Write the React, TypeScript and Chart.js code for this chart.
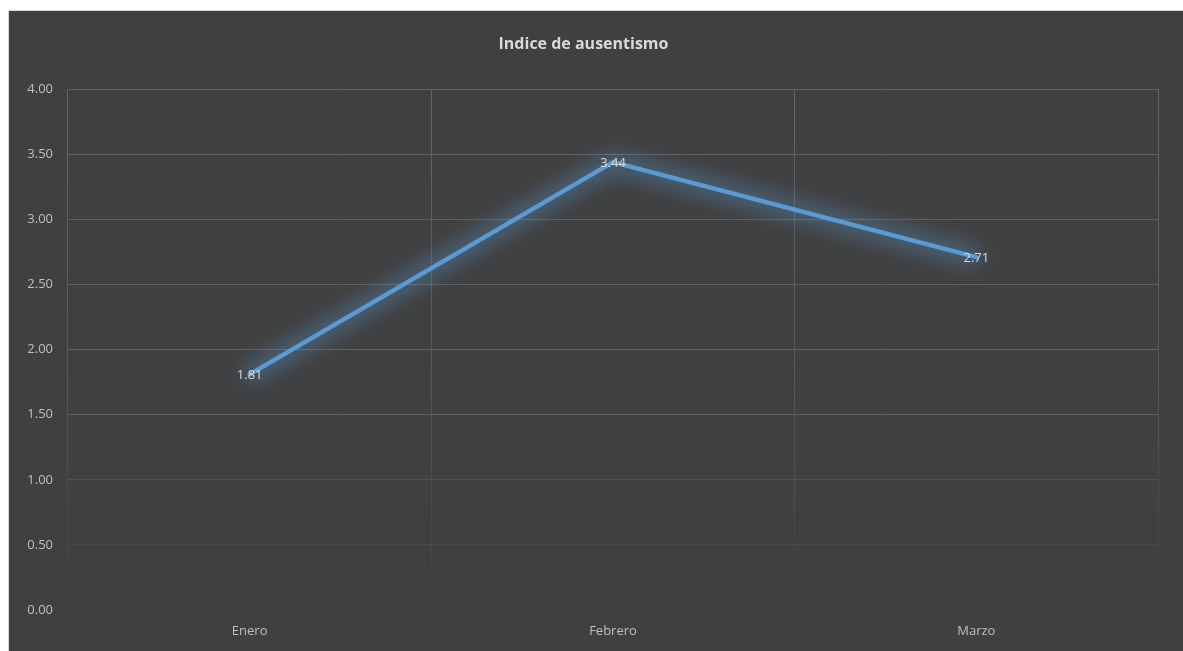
import React, { useEffect, useRef } from "react";
import { Chart, registerables } from "chart.js";

Chart.register(...registerables);

const categories = ["Enero", "Febrero", "Marzo"];
const values = [1.81, 3.44, 2.71];
const title = "Indice de ausentismo";
const yMin = 0;
const yMax = 4;
const yStep = 0.5;

const FONT = "'Open Sans', 'Noto Sans', sans-serif";

const glowPlugin = {
  id: "glow",
  beforeDatasetsDraw(chart: any) {
    const ctx = chart.ctx;
    const meta = chart.getDatasetMeta(0);
    const shift = 5000;
    // shadow-only soft halo: path drawn off-canvas, its shadow offset back in place
    ctx.save();
    ctx.lineJoin = "round";
    ctx.lineCap = "round";
    ctx.strokeStyle = "#000";
    ctx.shadowColor = "rgba(91,155,213,0.85)";
    ctx.shadowBlur = 22;
    ctx.shadowOffsetX = shift;
    ctx.lineWidth = 9;
    ctx.beginPath();
    meta.data.forEach((pt: any, i: number) => {
      if (i === 0) ctx.moveTo(pt.x - shift, pt.y);
      else ctx.lineTo(pt.x - shift, pt.y);
    });
    ctx.stroke();
    ctx.restore();
  },
};

const labelPlugin = {
  id: "pointLabels",
  afterDatasetsDraw(chart: any) {
    const ctx = chart.ctx;
    const meta = chart.getDatasetMeta(0);
    ctx.save();
    ctx.font = `13px ${FONT}`;
    ctx.fillStyle = "#d9d9d9";
    ctx.textAlign = "center";
    ctx.textBaseline = "middle";
    meta.data.forEach((pt: any, i: number) => {
      ctx.fillText(values[i].toFixed(2), pt.x, pt.y + 1);
    });
    ctx.restore();
  },
};

export default function App() {
  const ref = useRef<HTMLCanvasElement>(null);
  useEffect(() => {
    document.body.style.margin = "0";
    document.body.style.background = "#ffffff";
    const chart = new Chart(ref.current!, {
      type: "line",
      data: {
        labels: categories,
        datasets: [
          {
            data: values,
            borderColor: "#5b9bd5",
            borderWidth: 4.5,
            pointRadius: 0,
            tension: 0,
            borderCapStyle: "round",
            borderJoinStyle: "round",
          },
        ],
      },
      options: {
        animation: false,
        responsive: false,
        maintainAspectRatio: false,
        layout: { padding: { left: 0, right: 25, top: 0, bottom: 0 } },
        plugins: {
          legend: { display: false },
          tooltip: { enabled: false },
          title: {
            display: true,
            text: title,
            color: "#d9d9d9",
            font: { family: FONT, size: 16, weight: "bold" },
            padding: { top: 24, bottom: 35 },
          },
        },
        scales: {
          x: {
            offset: true,
            grid: {
              offset: true,
              drawTicks: false,
              color: (c: any) => {
                const ch = c.chart;
                const a = ch.chartArea;
                if (!a) return "#575757";
                const g = ch.ctx.createLinearGradient(0, a.top, 0, a.bottom);
                g.addColorStop(0, "rgba(105,105,105,0.9)");
                g.addColorStop(0.6, "rgba(95,95,95,0.75)");
                g.addColorStop(1, "rgba(80,80,80,0.1)");
                return g;
              },
            },
            border: { display: false },
            ticks: {
              color: "#bfbfbf",
              font: { family: FONT, size: 13 },
              padding: 13,
            },
            afterFit(scale: any) {
              scale.height = 41;
            },
          },
          y: {
            min: yMin,
            max: yMax,
            grid: {
              drawTicks: false,
              color: (c: any) => {
                const v = c.tick ? c.tick.value : 0;
                if (v <= 0) return "rgba(0,0,0,0)";
                if (v <= 0.5) return "rgba(85,85,85,0.45)";
                if (v <= 1) return "rgba(90,90,90,0.65)";
                return "rgba(100,100,100,0.9)";
              },
            },
            border: { display: false },
            ticks: {
              stepSize: yStep,
              color: "#bfbfbf",
              font: { family: FONT, size: 13 },
              padding: 15,
              callback: (v: any) => Number(v).toFixed(2),
            },
            afterFit(scale: any) {
              scale.width = 59;
            },
          },
        },
      },
      plugins: [glowPlugin, labelPlugin],
    });
    return () => chart.destroy();
  }, []);

  return (
    <div style={{ position: "relative", width: 1183, height: 651, background: "#fff", overflow: "hidden" }}>
      <div
        style={{
          position: "absolute",
          left: 8,
          top: 10,
          width: 1174,
          height: 660,
          background: "#404040",
          border: "1px solid #d9d9d9",
        }}
      >
        <canvas ref={ref} width={1174} height={640} style={{ display: "block" }} />
      </div>
    </div>
  );
}
